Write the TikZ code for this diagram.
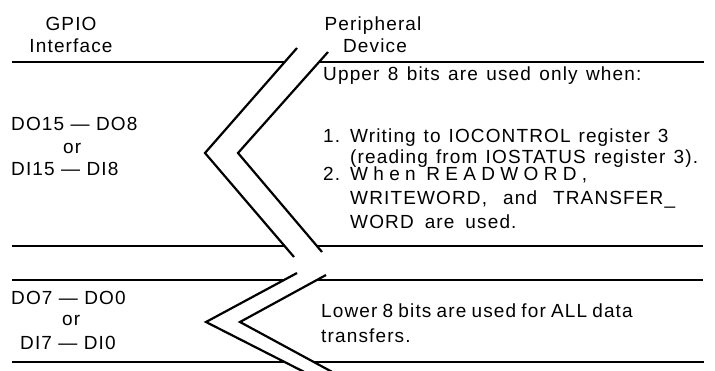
\documentclass[tikz,border=0pt]{standalone}
\usepackage{fontspec}
\setmainfont{Liberation Sans}[LetterSpace=6]
\newfontfamily\widefont{Liberation Sans}[LetterSpace=28]
\newcommand\wordgap[1]{\spaceskip=#1pt\relax}
\begin{document}
\begin{tikzpicture}[x=1pt,y=-1pt,
  rule/.style={line width=2.2pt},
  txt/.style={anchor=base west,inner sep=0pt,font=\fontsize{19}{22}\selectfont},
  ctxt/.style={anchor=base,inner sep=0pt,font=\fontsize{19}{22}\selectfont}]
\useasboundingbox (0,0) rectangle (715,371);
\clip (0,0) rectangle (715,371);
% chevron coordinates
\coordinate (a1) at (297,48);  \coordinate (v1) at (205,153); \coordinate (b1) at (294,257);
\coordinate (a2) at (328,52);  \coordinate (v2) at (238,153); \coordinate (b2) at (322,252);
\coordinate (a3) at (297,273); \coordinate (v3) at (206,322); \coordinate (b3) at (320,380);
\coordinate (a4) at (326,275); \coordinate (v4) at (240,322); \coordinate (b4) at (347,380);
\draw[rule] (a1) -- (v1) -- (b1);
\draw[rule] (a2) -- (v2) -- (b2);
\draw[rule] (a3) -- (v3) -- (b3);
\draw[rule] (a4) -- (v4) -- (b4);
% horizontal rules
\coordinate (l1a) at (12,62);  \coordinate (l1b) at (285,62);  \coordinate (r1a) at (319,62);  \coordinate (r1b) at (704,62);
\coordinate (l2a) at (12,246); \coordinate (l2b) at (285,246); \coordinate (r2a) at (317,246); \coordinate (r2b) at (703,246);
\coordinate (l3a) at (12,280); \coordinate (l3b) at (284,280); \coordinate (r3a) at (317,280); \coordinate (r3b) at (703,280);
\coordinate (l4a) at (12,362); \coordinate (l4b) at (284,362); \coordinate (r4a) at (314,362); \coordinate (r4b) at (704,362);
\foreach \n in {1,2,3,4}{
  \draw[rule] (l\n a) -- (l\n b);
  \draw[rule] (r\n a) -- (r\n b);
}
% headings
\node[ctxt] (h1) at (71,31) {GPIO};
\node[ctxt] (h2) at (71,53) {Interface};
\node[ctxt] (h3) at (373,31) {Peripheral};
\node[ctxt] (h4) at (375,53) {Device};
% left labels
\node[txt] (d1) at (11,131) {DO15 — DO8};
\node[txt] (d2) at (63,154) {or};
\node[txt] (d3) at (11,176) {DI15 — DI8};
\node[txt] (d4) at (11,305) {DO7 — DO0};
\node[txt] (d5) at (62,326) {or};
\node[txt] (d6) at (20,349) {DI7 — DI0};
% right text
\node[txt] (u1) at (323,81) {\wordgap{8.4}Upper 8 bits are used only when:};
\node[txt] (n1) at (323,143) {1.};
\node[txt] (t1) at (350,143) {\wordgap{7.9}Writing to IOCONTROL register 3};
\node[txt] (t2) at (350,164) {\wordgap{8.2}(reading from IOSTATUS register 3).};
\node[txt] (n2) at (323,181) {2.};
\node[txt,font=\fontsize{19}{22}\widefont] (t3) at (350,181) {When READWORD,};
\node[txt] (t4) at (350,205) {\wordgap{16}WRITEWORD, and TRANSFER\_};
\node[txt] (t5) at (350,229) {\wordgap{11}WORD are used.};
\node[txt] (w1) at (321,318) {\wordgap{5.2}Lower 8 bits are used for ALL data};
\node[txt] (w2) at (321,343) {transfers.};
\end{tikzpicture}
\end{document}
